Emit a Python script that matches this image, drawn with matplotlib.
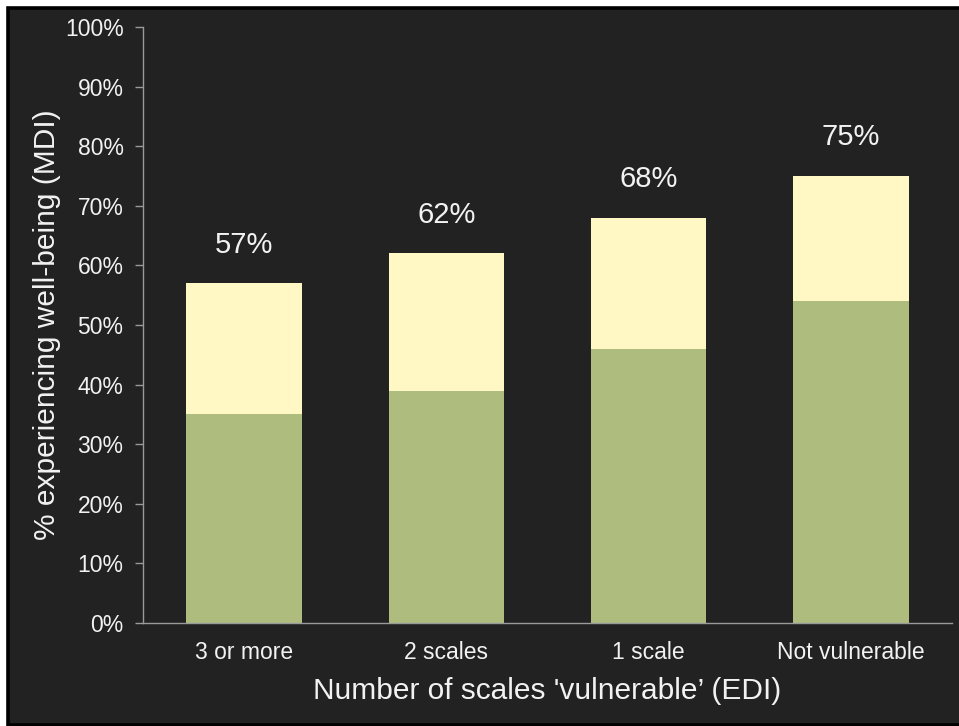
import matplotlib
matplotlib.use("Agg")
import matplotlib.pyplot as plt
from matplotlib.patches import Rectangle

categories = ["3 or more", "2 scales", "1 scale", "Not vulnerable"]
lower_values = [35, 39, 46, 54]      # green segment
total_values = [57, 62, 68, 75]      # full bar height (labelled)
y_ticks = list(range(0, 101, 10))

BG = "#222222"
GREEN = "#aebd7e"
YELLOW = "#fff8c4"
TEXT = "#f2f2f2"
AXIS = "#9a9a9a"

plt.rcParams["font.family"] = ["Liberation Sans", "DejaVu Sans"]

fig = plt.figure(figsize=(9.59, 7.26), dpi=100)
fig.patch.set_facecolor("white")
W, H = 959, 726
frame = Rectangle((8 / W, 1.5 / H), (980 - 8) / W, (718 - 1.5) / H,
                  transform=fig.transFigure, facecolor=BG, edgecolor="black",
                  linewidth=2.6, zorder=-10)
fig.patches.append(frame)

ax = fig.add_axes([143 / W, 1 - 623 / H, (952 - 143) / W, (623 - 27) / H])
ax.set_zorder(1)
ax.patch.set_alpha(0)

x = range(len(categories))
upper = [t - l for t, l in zip(total_values, lower_values)]
width = 0.57
ax.bar(x, lower_values, width=width, color=GREEN, edgecolor="none", zorder=2)
ax.bar(x, upper, bottom=lower_values, width=width, color=YELLOW,
       edgecolor="none", zorder=2)

for xi, t in zip(x, total_values):
    ax.text(xi, t + 6.5, f"{t}%", ha="center", va="center",
            fontsize=21, color=TEXT)

ax.set_xlim(-0.5, len(categories) - 0.5)
ax.set_ylim(0, 100)
ax.set_yticks(y_ticks)
ax.set_yticklabels([f"{v}%" for v in y_ticks])
ax.set_xticks(list(x))
ax.set_xticklabels(categories)

for s in ["top", "right"]:
    ax.spines[s].set_visible(False)
for s in ["left", "bottom"]:
    ax.spines[s].set_color(AXIS)
    ax.spines[s].set_linewidth(1.0)

ax.tick_params(axis="y", colors=AXIS, labelcolor=TEXT, labelsize=16.5,
               length=6, width=1, direction="out", pad=8)
ax.tick_params(axis="x", length=0, labelcolor=TEXT, labelsize=16.5, pad=13)

ax.set_ylabel("% experiencing well-being (MDI)", fontsize=21.5, color=TEXT,
              labelpad=3)
ax.set_xlabel("Number of scales 'vulnerable\u2019 (EDI)", fontsize=21.5,
              color=TEXT, labelpad=9)

fig.savefig("out.png", dpi=100, facecolor=fig.get_facecolor())
